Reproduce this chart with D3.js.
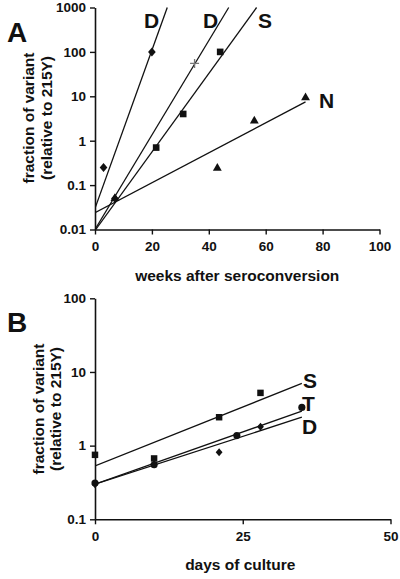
<!DOCTYPE html>
<html>
<head>
<meta charset="utf-8">
<script src="https://cdn.jsdelivr.net/npm/d3@7"></script>
<style>
  html, body { margin: 0; padding: 0; background: #fff; }
  svg text { font-family: "Liberation Sans", Arial, sans-serif; font-weight: bold; fill: #111; }
</style>
</head>
<body>
<svg id="chart" width="400" height="579"></svg>
<script>
// ---------- Panel A data ----------
const weeksTicks = [0, 20, 40, 60, 80, 100];
const aYTicks = [0.01, 0.1, 1, 10, 100, 1000];
const aYTickLabels = ["0.01", "0.1", "1", "10", "100", "1000"];

const aD1Weeks = [3, 7, 20];
const aD1Values = [0.25, 0.05, 100];
const aD2Weeks = [35];
const aD2Values = [55];
const aSWeeks = [21.5, 31, 44];
const aSValues = [0.7, 4, 100];
const aNWeeks = [7, 43, 56, 74];
const aNValues = [0.05, 0.24, 2.8, 9.3];

// regression lines: [startX, startValue, endX, endValue]
const aD1Fit = [0, 0.03, 25.4, 1000];
const aD2Fit = [0, 0.01, 47, 1000];
const aSFit = [0, 0.0095, 56.8, 1000];
const aNFit = [0, 0.024, 74, 7.5];

// ---------- Panel B data ----------
const daysTicks = [0, 25, 50];
const bYTicks = [0.1, 1, 10, 100];
const bYTickLabels = ["0.1", "1", "10", "100"];

const bSDays = [0, 10, 21, 28];
const bSValues = [0.75, 0.67, 2.43, 5.2];
const bTDays = [0, 10, 24, 35];
const bTValues = [0.31, 0.55, 1.37, 3.3];
const bDDays = [0, 10, 21, 28];
const bDValues = [0.3, 0.56, 0.81, 1.8];

const bSFit = [0, 0.53, 35, 7.0];
const bTFit = [0, 0.30, 35, 2.95];
const bDFit = [0, 0.30, 35, 2.43];

// ---------- drawing ----------
const svg = d3.select("#chart");

function diamondPath(s) {
  return `M0,${-s}L${s*0.85},0L0,${s}L${-s*0.85},0Z`;
}
function plusPath(s) {
  return `M${-s},0H${s}M0,${-s}V${s}`;
}

function drawPanel(cfg) {
  const g = svg.append("g");
  const x = d3.scaleLinear().domain(cfg.xDomain).range(cfg.xRange);
  const y = d3.scaleLog().domain(cfg.yDomain).range(cfg.yRange);

  const clipId = "clip" + cfg.id;
  svg.append("defs").append("clipPath").attr("id", clipId)
    .append("rect")
    .attr("x", cfg.xRange[0]).attr("y", cfg.yRange[1] - 1)
    .attr("width", cfg.xRange[1] - cfg.xRange[0] + 2)
    .attr("height", cfg.yRange[0] - cfg.yRange[1] + 1);

  // axes
  const xAxis = d3.axisBottom(x).tickValues(cfg.xTicks).tickSize(5).tickSizeOuter(0).tickPadding(7)
    .tickFormat(d3.format("d"));
  const yAxis = d3.axisLeft(y).tickValues(cfg.yTicks).tickSize(5).tickSizeOuter(0).tickPadding(4)
    .tickFormat((d, i) => cfg.yTickLabels[i]);

  const gx = g.append("g").attr("transform", `translate(0,${cfg.yRange[0]})`).call(xAxis);
  const gy = g.append("g").attr("transform", `translate(${cfg.xRange[0]},0)`).call(yAxis);
  [gx, gy].forEach(a => {
    a.select(".domain").attr("stroke", "#111").attr("stroke-width", 1.6);
    a.selectAll(".tick line").attr("stroke", "#111").attr("stroke-width", 1.4);
    a.selectAll(".tick text").attr("font-size", 13.5).attr("font-family", "Liberation Sans, Arial, sans-serif")
      .attr("font-weight", "bold").attr("fill", "#111");
  });

  // fit lines
  const lg = g.append("g").attr("clip-path", `url(#${clipId})`);
  cfg.fits.forEach(f => {
    lg.append("line")
      .attr("x1", x(f[0])).attr("y1", y(f[1]))
      .attr("x2", x(f[2])).attr("y2", y(f[3]))
      .attr("stroke", "#111").attr("stroke-width", 1.3);
  });

  // markers
  cfg.series.forEach(s => {
    const pts = s.xs.map((v, i) => [v, s.vs[i]]);
    const sel = g.append("g").selectAll("path").data(pts).join("path")
      .attr("transform", d => `translate(${x(d[0])},${y(d[1])})`);
    if (s.shape === "diamond") sel.attr("d", diamondPath(s.size)).attr("fill", "#111");
    else if (s.shape === "plus") sel.attr("d", plusPath(s.size)).attr("fill", "none").attr("stroke", "#777").attr("stroke-width", 1.3);
    else if (s.shape === "square") sel.attr("d", d3.symbol(d3.symbolSquare, s.size)()).attr("fill", "#111");
    else if (s.shape === "triangle") sel.attr("d", d3.symbol(d3.symbolTriangle, s.size)()).attr("fill", "#111");
    else if (s.shape === "circle") sel.attr("d", d3.symbol(d3.symbolCircle, s.size)()).attr("fill", "#111");
  });

  // series labels
  cfg.labels.forEach(l => {
    g.append("text").attr("x", l.x).attr("y", l.y).attr("font-size", 21).text(l.t);
  });

  // panel letter
  g.append("text").attr("x", 7).attr("y", cfg.letterY).attr("font-size", 28).text(cfg.letter);

  // axis titles
  g.append("text").attr("x", (cfg.xRange[0] + cfg.xRange[1]) / 2 + cfg.xTitleDx).attr("y", cfg.xTitleY)
    .attr("text-anchor", "middle").attr("font-size", cfg.xTitleSize).text(cfg.xTitle);
  const cy = cfg.yTitleCy;
  g.append("text").attr("transform", `translate(${cfg.yTitleX1},${cy}) rotate(-90)`)
    .attr("text-anchor", "middle").attr("font-size", 15.5).text("fraction of variant");
  g.append("text").attr("transform", `translate(${cfg.yTitleX2},${cy}) rotate(-90)`)
    .attr("text-anchor", "middle").attr("font-size", 15.5).text("(relative to 215Y)");
}

drawPanel({
  id: "A", letter: "A", letterY: 42,
  xDomain: [0, 100], xRange: [95, 379.5],
  yDomain: [0.01, 1000], yRange: [229.5, 7.5],
  xTicks: weeksTicks, yTicks: aYTicks, yTickLabels: aYTickLabels,
  fits: [aD1Fit, aD2Fit, aSFit, aNFit],
  series: [
    { xs: aNWeeks, vs: aNValues, shape: "triangle", size: 34 },
    { xs: aD1Weeks, vs: aD1Values, shape: "diamond", size: 4.5 },
    { xs: aSWeeks, vs: aSValues, shape: "square", size: 44 },
    { xs: aD2Weeks, vs: aD2Values, shape: "plus", size: 4.5 }
  ],
  labels: [
    { t: "D", x: 144, y: 28 }, { t: "D", x: 203, y: 28 },
    { t: "S", x: 258, y: 28 }, { t: "N", x: 319, y: 108 }
  ],
  xTitle: "weeks after seroconversion", xTitleY: 281, xTitleDx: 0, xTitleSize: 15.5,
  yTitleX1: 33.5, yTitleX2: 52, yTitleCy: 118
});

drawPanel({
  id: "B", letter: "B", letterY: 332,
  xDomain: [0, 50], xRange: [95, 390.5],
  yDomain: [0.1, 100], yRange: [519.3, 298.3],
  xTicks: daysTicks, yTicks: bYTicks, yTickLabels: bYTickLabels,
  fits: [bSFit, bTFit, bDFit],
  series: [
    { xs: bDDays, vs: bDValues, shape: "diamond", size: 4 },
    { xs: bTDays, vs: bTValues, shape: "circle", size: 40 },
    { xs: bSDays, vs: bSValues, shape: "square", size: 42 }
  ],
  labels: [
    { t: "S", x: 303, y: 388 }, { t: "T", x: 302, y: 411 }, { t: "D", x: 302, y: 434 }
  ],
  xTitle: "days of culture", xTitleY: 570, xTitleDx: -2.5, xTitleSize: 15.5,
  yTitleX1: 43.5, yTitleX2: 61, yTitleCy: 409
});
</script>
</body>
</html>
